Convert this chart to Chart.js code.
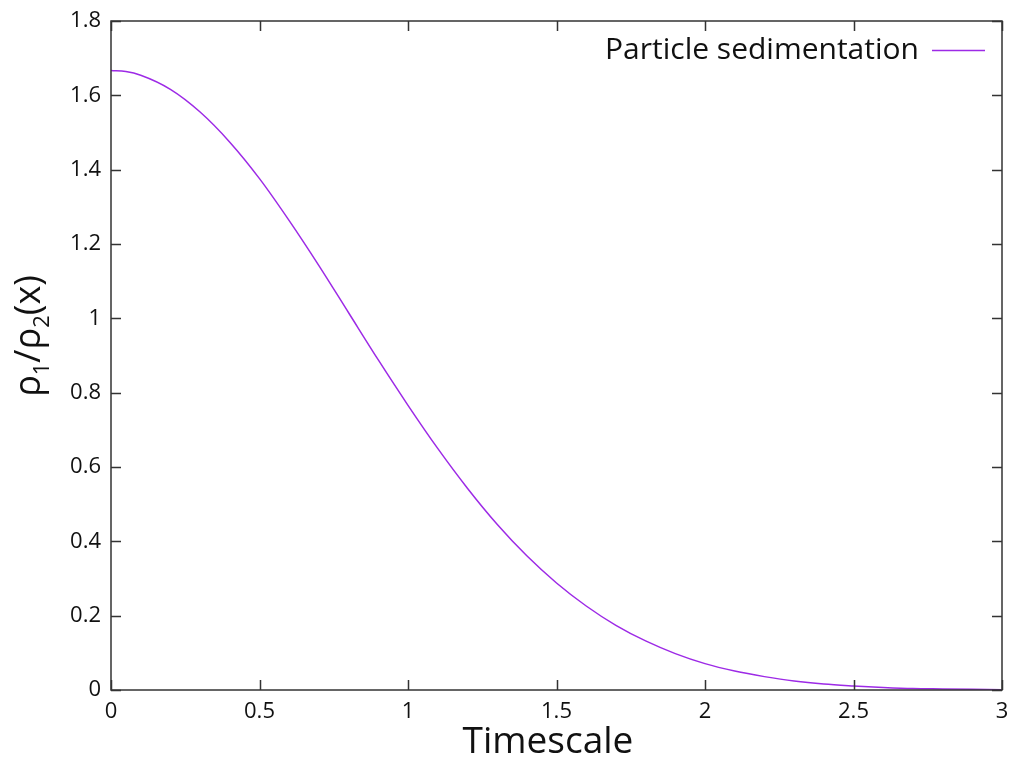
<!DOCTYPE html>
<html>
<head>
<meta charset="utf-8">
<script src="https://cdn.jsdelivr.net/npm/chart.js@4/dist/chart.umd.min.js"></script>
<style>
html,body{margin:0;padding:0;background:#fff;}
#wrap{width:1012px;height:758px;position:relative;}
</style>
</head>
<body>
<div id="wrap"><canvas id="c" width="1012" height="758"></canvas></div>
<script>
// Data
const timescale = [0,0.05,0.1,0.2,0.3,0.4,0.5,0.6,0.7,0.8,0.9,1.0,1.1,1.2,1.3,1.4,1.5,1.6,1.7,1.8,1.9,2.0,2.1,2.2,2.3,2.4,2.5,2.6,2.7,2.8,2.9,3.0];
const ratio = [1.667,1.664,1.654,1.616,1.555,1.474,1.376,1.263,1.142,1.015,0.888,0.766,0.650,0.543,0.446,0.361,0.288,0.226,0.174,0.132,0.098,0.071,0.051,0.036,0.024,0.016,0.011,0.007,0.004,0.003,0.002,0.001];
const xTickLabels = ['0','0.5','1','1.5','2','2.5','3'];
const yTickLabels = ['0','0.2','0.4','0.6','0.8','1','1.2','1.4','1.6','1.8'];
const seriesName = 'Particle sedimentation';
const xTitle = 'Timescale';

const FONT = "'Open Sans', 'Noto Sans', sans-serif";
const LINE_COLOR = '#9d2ae6';
const FRAME = '#333333';

const frameTicks = {
  id: 'frameTicks',
  afterDraw(chart) {
    const {ctx, chartArea: a, scales: {x, y}} = chart;
    ctx.save();
    ctx.strokeStyle = FRAME;
    ctx.lineWidth = 1.5;
    ctx.strokeRect(a.left, a.top, a.right - a.left, a.bottom - a.top);
    const L = 10;
    ctx.beginPath();
    x.ticks.forEach(t => {
      const px = Math.round(x.getPixelForValue(t.value)) + 0.5;
      ctx.moveTo(px, a.bottom); ctx.lineTo(px, a.bottom - L);
      ctx.moveTo(px, a.top); ctx.lineTo(px, a.top + L);
    });
    y.ticks.forEach(t => {
      const py = Math.round(y.getPixelForValue(t.value)) + 0.5;
      ctx.moveTo(a.left, py); ctx.lineTo(a.left + L, py);
      ctx.moveTo(a.right, py); ctx.lineTo(a.right - L, py);
    });
    ctx.stroke();

    // legend (text then line sample), inside top-right
    ctx.fillStyle = '#111';
    ctx.font = '30px ' + FONT;
    ctx.textAlign = 'right';
    ctx.textBaseline = 'middle';
    ctx.fillText(chart.data.datasets[0].label, 919, 50);
    ctx.strokeStyle = LINE_COLOR;
    ctx.lineWidth = 1.5;
    ctx.beginPath();
    ctx.moveTo(932, 50.5); ctx.lineTo(985, 50.5);
    ctx.stroke();

    // x axis title
    ctx.fillStyle = '#111';
    ctx.font = '37px ' + FONT;
    ctx.textAlign = 'center';
    ctx.textBaseline = 'alphabetic';
    ctx.fillText(xTitle, 548, 753);

    // y axis title with subscripts: ρ1/ρ2(x)
    const parts = [
      {t: 'ρ', s: 36, dy: 0},
      {t: '1', s: 22, dy: 9},
      {t: '/ρ', s: 36, dy: 0},
      {t: '2', s: 22, dy: 9},
      {t: '(x)', s: 36, dy: 0}
    ];
    let total = 0;
    parts.forEach(p => { ctx.font = p.s + 'px ' + FONT; p.w = ctx.measureText(p.t).width; total += p.w; });
    ctx.translate(40, 336);
    ctx.rotate(-Math.PI / 2);
    ctx.textAlign = 'left';
    let cx = -total / 2;
    parts.forEach(p => {
      ctx.font = p.s + 'px ' + FONT;
      ctx.fillText(p.t, cx, p.dy);
      cx += p.w;
    });
    ctx.restore();
  }
};

new Chart(document.getElementById('c'), {
  type: 'line',
  data: {
    datasets: [{
      label: seriesName,
      data: timescale.map((t, i) => ({x: t, y: ratio[i]})),
      borderColor: LINE_COLOR,
      borderWidth: 1.5,
      pointRadius: 0,
      fill: false,
      cubicInterpolationMode: 'monotone'
    }]
  },
  options: {
    responsive: false,
    animation: false,
    events: [],
    layout: {padding: {top: 21, right: 10, left: 0, bottom: 0}},
    plugins: {legend: {display: false}, tooltip: {enabled: false}},
    scales: {
      x: {
        type: 'linear', min: 0, max: 3,
        afterFit(s) { s.height = 68; s.paddingRight = 0; s.paddingLeft = 0; },
        afterBuildTicks(s) { s.ticks = xTickLabels.map(v => ({value: parseFloat(v)})); },
        grid: {display: false, drawTicks: false},
        border: {display: false},
        ticks: {
          padding: 9, color: '#111', maxRotation: 0, autoSkip: false,
          font: {family: FONT, size: 22},
          callback: (v) => { const i = xTickLabels.findIndex(l => Math.abs(parseFloat(l) - v) < 1e-9); return i >= 0 ? xTickLabels[i] : ''; }
        }
      },
      y: {
        type: 'linear', min: 0, max: 1.8,
        afterFit(s) { s.width = 111; s.paddingTop = 0; s.paddingBottom = 0; },
        afterBuildTicks(s) { s.ticks = yTickLabels.map(v => ({value: parseFloat(v)})); },
        grid: {display: false, drawTicks: false},
        border: {display: false},
        ticks: {
          padding: 10, color: '#111', autoSkip: false,
          font: {family: FONT, size: 22},
          callback: (v) => { const i = yTickLabels.findIndex(l => Math.abs(parseFloat(l) - v) < 1e-9); return i >= 0 ? yTickLabels[i] : ''; }
        }
      }
    }
  },
  plugins: [frameTicks]
});
</script>
</body>
</html>
